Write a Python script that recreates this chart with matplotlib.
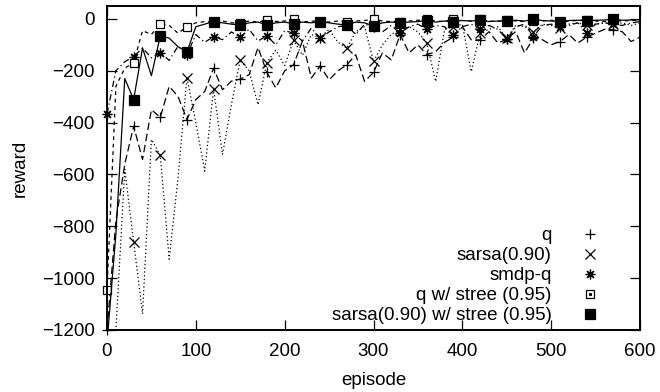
import numpy as np
import matplotlib.pyplot as plt
from matplotlib.lines import Line2D

plt.rcParams['font.family'] = ['Liberation Sans', 'DejaVu Sans']

# episodes (every 10)
episodes = np.arange(0, 601, 10)

q = [-1200, -780, -560, -414, -542, -350, -380, -260, -299, -388,
     -311, -280, -190, -273, -240, -232, -215, -110, -206, -266,
     -200, -177, -85, -228, -181, -235, -200, -177, -138, -241,
     -206, -131, -158, -60, -131, -100, -138, -126, -90, -70,
     -30, -80, -81, -49, -93, -78, -49, -131, -74, -80,
     -100, -87, -60, -93, -70, -55, -40, -42, -49, -87, -70]

sarsa = [-1250, -1200, -580, -860, -1138, -465, -526, -927, -611, -226,
         -400, -587, -270, -523, -331, -158, -200, -331, -168, -120,
         -180, -83, -140, -60, -72, -40, -90, -113, -50, -30,
         -164, -100, -60, -40, -30, -50, -94, -241, -40, -30,
         -20, -203, -55, -40, -30, -75, -25, -30, -50, -20,
         -25, -35, -20, -15, -25, -20, -15, -20, -15, -25, -15]

smdp_q = [-366, -200, -165, -145, -112, -150, -130, -160, -105, -138,
          -60, -90, -68, -80, -50, -70, -40, -85, -65, -100,
          -45, -55, -85, -35, -74, -50, -30, -25, -60, -20,
          -30, -50, -25, -55, -30, -20, -40, -25, -30, -62,
          -30, -20, -39, -25, -40, -78, -30, -20, -68, -25,
          -20, -30, -25, -15, -54, -20, -15, -20, -25, -15, -10]

q_stree = [-1045, -260, -190, -168, -45, -60, -19, -25, -55, -30,
           -15, -10, -12, -8, -15, -15, -8, -12, -5, -10,
           -8, -1, -12, -8, -10, -12, -8, -10, -8, -6,
           -1, -8, -10, -10, -8, -5, -2, -8, -10, -2,
           -6, -8, -2, -8, -10, -4, -8, -10, -6, -8,
           -5, -10, -8, -6, -5, -8, -10, -5, -8, -6, -5]

sarsa_stree = [-1250, -830, -230, -311, -112, -219, -65, -74, -107, -127,
               -30, -20, -10, -15, -20, -23, -15, -12, -23, -15,
               -12, -19, -12, -15, -10, -15, -20, -23, -12, -15,
               -27, -15, -12, -14, -12, -10, -6, -12, -8, -10,
               -6, -8, -4, -10, -8, -6, -5, -8, -1, -6,
               -8, -10, -6, -5, -6, -5, -4, -1, -5, -4, -3]

labels = ['q', 'sarsa(0.90)', 'smdp-q', 'q w/ stree (0.95)',
          'sarsa(0.90) w/ stree (0.95)']

fig = plt.figure(figsize=(6.6, 3.92), dpi=100)
ax = fig.add_axes([107 / 660, 1 - 330 / 392, 533 / 660, 324 / 392])

series = [
    (q, (0, (6, 3)), '+', 7.5, 'none', slice(0, 60, 3)),
    (sarsa, (0, (1, 2)), 'x', 6.5, 'none', slice(3, 60, 3)),
    (smdp_q, (0, (5, 2.5, 1, 2.5)), (8, 2, 0), 7, 'none', slice(0, 60, 3)),
    (q_stree, (0, (3, 3)), 's', 6, 'white', slice(0, 60, 3)),
    (sarsa_stree, '-', 's', 7, 'black', slice(3, 60, 3)),
]

handles = []
for (vals, ls, mk, ms, mfc, every) in series:
    ax.plot(episodes, vals, color='black', linestyle=ls, linewidth=0.9)
    ax.plot(episodes[every], np.array(vals)[every], linestyle='none',
            marker=mk, markersize=ms, markerfacecolor=mfc,
            markeredgecolor='black', markeredgewidth=0.9, clip_on=False)
    handles.append(Line2D([], [], linestyle='none', marker=mk, markersize=ms,
                          markerfacecolor=mfc, markeredgecolor='black',
                          markeredgewidth=0.9, color='black'))

# open square in the key has a small dot in the middle
dot = Line2D([], [], linestyle='none', marker='s', markersize=1.2,
             color='black')
handles[3] = (handles[3], dot)

ax.set_xlim(0, 600)
ax.set_ylim(-1200, 50)
ax.set_xticks(np.arange(0, 601, 100))
ax.set_yticks(np.arange(-1200, 1, 200))
ax.tick_params(direction='in', top=True, right=True, length=7, width=0.9,
               labelsize=13.5, pad=9)
for sp in ax.spines.values():
    sp.set_linewidth(1.4)

ax.set_xlabel('episode', fontsize=13.5, labelpad=9)
ax.set_ylabel('reward', fontsize=13.5, labelpad=9)

ax.legend(handles, labels, loc='lower right', frameon=False, markerfirst=False,
          fontsize=13.5, handlelength=1.5, handletextpad=1.3, labelspacing=0.15,
          borderaxespad=0, bbox_to_anchor=(0.9465, -0.005))

fig.savefig('out.png', dpi=100)
